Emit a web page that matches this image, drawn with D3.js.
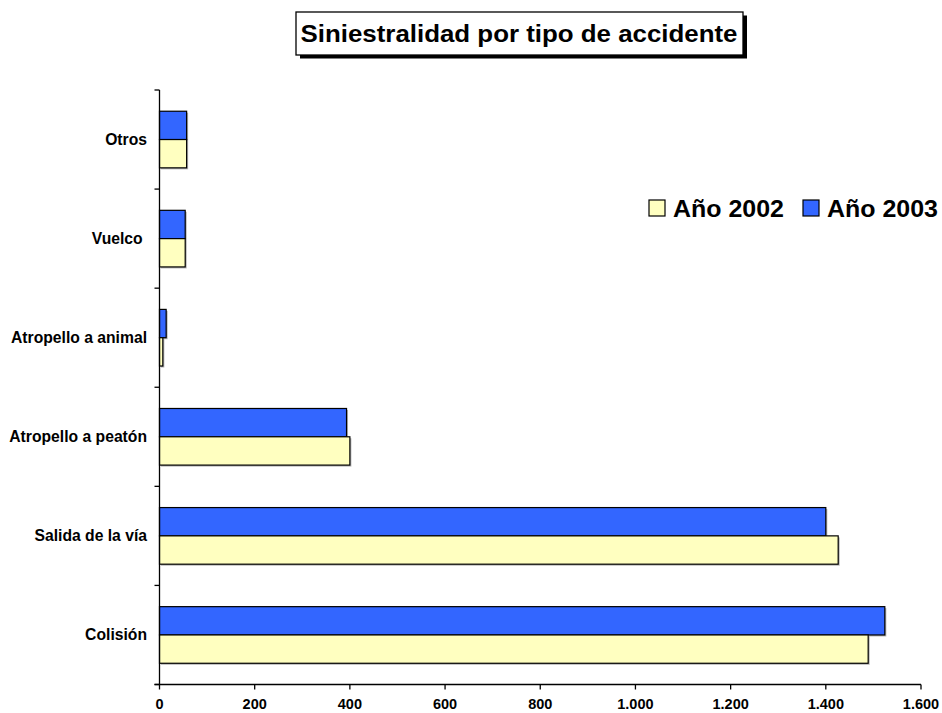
<!DOCTYPE html>
<html>
<head>
<meta charset="utf-8">
<script src="https://cdn.jsdelivr.net/npm/d3@7"></script>
<style>
  html, body { margin: 0; padding: 0; background: #fff; }
  svg { display: block; font-family: "Liberation Sans", Arial, sans-serif; }
</style>
</head>
<body>
<svg id="chart" width="942" height="713"></svg>
<script>
// ---- data ----
const categories = ["Otros", "Vuelco ", "Atropello a animal", "Atropello a peatón", "Salida de la vía", "Colisión"];
const seriesNames = ["Año 2002", "Año 2003"];
const values2002 = [57, 54, 7, 400, 1426, 1489];
const values2003 = [57, 54, 14, 393, 1400, 1524];
const xTicks = [0, 200, 400, 600, 800, 1000, 1200, 1400, 1600];
const xTickLabels = ["0", "200", "400", "600", "800", "1.000", "1.200", "1.400", "1.600"];
const colors = { "Año 2002": "#FFFFC0", "Año 2003": "#3366FF" };
const title = "Siniestralidad por tipo de accidente";

(function () {
const svg = d3.select("#chart");
const pLeft = 159.5, pRight = 921, pTop = 90, pBottom = 684.5;

const x = d3.scaleLinear().domain([0, 1600]).range([pLeft, pRight]);
const y0 = d3.scaleBand().domain(categories).range([pTop, pBottom]).paddingInner(0).paddingOuter(0);
const y1 = d3.scaleBand().domain(["Año 2003", "Año 2002"]).range([0, y0.bandwidth()]).paddingInner(0).paddingOuter(0.75);

const rows = categories.map((c, i) => ({
  cat: c,
  vals: [{ s: "Año 2003", v: values2003[i] }, { s: "Año 2002", v: values2002[i] }]
}));

// bars
const g = svg.append("g");
const groups = g.selectAll("g.cat").data(rows).join("g")
  .attr("transform", d => `translate(0,${y0(d.cat)})`);
groups.selectAll("rect.shadow").data(d => d.vals).join("rect")
  .attr("class", "shadow")
  .attr("x", x(0) + 1.5)
  .attr("y", d => y1(d.s) + 1.5)
  .attr("width", d => x(d.v) - x(0))
  .attr("height", y1.bandwidth())
  .attr("fill", "#777").attr("opacity", 0.55);
groups.selectAll("rect.bar").data(d => d.vals).join("rect")
  .attr("class", "bar")
  .attr("x", x(0))
  .attr("y", d => y1(d.s))
  .attr("width", d => x(d.v) - x(0))
  .attr("height", y1.bandwidth())
  .attr("fill", d => colors[d.s])
  .attr("stroke", "#000").attr("stroke-width", 1.2);

// x axis
const xAxis = svg.append("g").attr("transform", `translate(0,${pBottom})`);
xAxis.append("line").attr("x1", pLeft - 5).attr("x2", pRight).attr("y1", 0).attr("y2", 0)
  .attr("stroke", "#000").attr("stroke-width", 1.3);
xAxis.selectAll("line.t").data(xTicks).join("line").attr("class", "t")
  .attr("x1", d => x(d)).attr("x2", d => x(d)).attr("y1", 0).attr("y2", 5)
  .attr("stroke", "#000").attr("stroke-width", 1.3);
xAxis.selectAll("text").data(xTicks).join("text")
  .attr("x", d => x(d)).attr("y", 24.5)
  .attr("text-anchor", "middle")
  .attr("font-size", 14.5).attr("font-weight", "bold")
  .text((d, i) => xTickLabels[i]);

// y axis
const yAxis = svg.append("g");
yAxis.append("line").attr("x1", pLeft).attr("x2", pLeft).attr("y1", pTop).attr("y2", pBottom)
  .attr("stroke", "#000").attr("stroke-width", 1.3);
const bounds = categories.map(c => y0(c)).concat([pBottom]);
yAxis.selectAll("line.t").data(bounds).join("line").attr("class", "t")
  .attr("x1", pLeft - 5).attr("x2", pLeft).attr("y1", d => d).attr("y2", d => d)
  .attr("stroke", "#000").attr("stroke-width", 1.3);
yAxis.selectAll("text").data(categories).join("text")
  .attr("x", 147).attr("y", d => y0(d) + y0.bandwidth() / 2)
  .attr("dy", "0.35em")
  .attr("text-anchor", "end")
  .attr("font-size", 15.7).attr("font-weight", "bold")
  .style("white-space", "pre")
  .text(d => d);

// title box
const tb = svg.append("g");
tb.append("rect").attr("x", 300).attr("y", 15.5).attr("width", 447).attr("height", 43).attr("fill", "#000");
tb.append("rect").attr("x", 296).attr("y", 12).attr("width", 447).attr("height", 43)
  .attr("fill", "#fff").attr("stroke", "#000").attr("stroke-width", 1.3);
tb.append("text").attr("x", 519).attr("y", 42).attr("text-anchor", "middle")
  .attr("font-size", 23.5).attr("font-weight", "bold")
  .attr("textLength", 437).attr("lengthAdjust", "spacingAndGlyphs")
  .text(title);

// legend
const legendX = [649, 803];
const leg = svg.append("g");
seriesNames.forEach((s, i) => {
  leg.append("rect").attr("x", legendX[i]).attr("y", 200).attr("width", 16).attr("height", 16)
    .attr("fill", colors[s]).attr("stroke", "#000").attr("stroke-width", 1.2);
  leg.append("text").attr("x", legendX[i] + 24).attr("y", 217)
    .attr("font-size", 24).attr("font-weight", "bold")
    .attr("textLength", 111).attr("lengthAdjust", "spacingAndGlyphs")
    .text(s);
});
})();
</script>
</body>
</html>
